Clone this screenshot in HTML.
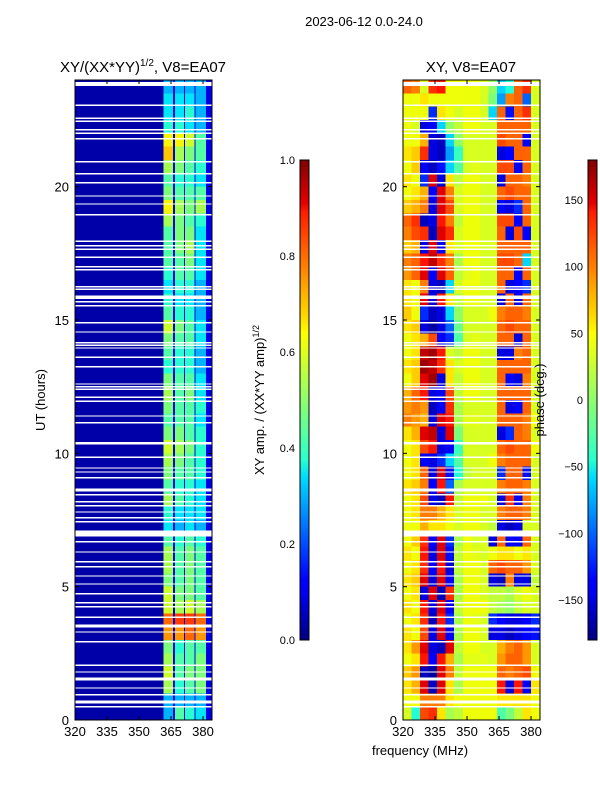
<!DOCTYPE html>
<html><head><meta charset="utf-8"><style>
body{margin:0;background:#fff;}
svg text{font-family:"Liberation Sans",sans-serif;fill:#000;}
</style></head><body>
<svg id="fig" width="600" height="800" xmlns="http://www.w3.org/2000/svg">
<defs>
<linearGradient id="jetgrad" x1="0" y1="1" x2="0" y2="0">
<stop offset="0" stop-color="rgb(0,0,128)"/><stop offset="0.11" stop-color="rgb(0,0,255)"/>
<stop offset="0.125" stop-color="rgb(0,0,255)"/><stop offset="0.34" stop-color="rgb(0,219,255)"/>
<stop offset="0.375" stop-color="rgb(41,255,206)"/><stop offset="0.64" stop-color="rgb(255,255,0)"/>
<stop offset="0.66" stop-color="rgb(255,230,0)"/><stop offset="0.89" stop-color="rgb(255,30,0)"/>
<stop offset="0.91" stop-color="rgb(230,0,0)"/><stop offset="1" stop-color="rgb(128,0,0)"/>
</linearGradient>
</defs>
<text x="364" y="26" font-size="13" text-anchor="middle">2023-06-12 0.0-24.0</text>
<text x="143" y="72" font-size="15" text-anchor="middle">XY/(XX*YY)<tspan font-size="10" dy="-6">1/2</tspan><tspan dy="6">, V8=EA07</tspan></text>
<text x="471" y="72" font-size="15" text-anchor="middle">XY, V8=EA07</text>
<g id="left"></g>
<g id="right"></g>
<g id="axes"></g>
<rect x="300" y="160" width="9" height="480" fill="url(#jetgrad)" stroke="#000" stroke-width="1"/>
<rect x="588" y="160" width="9" height="480" fill="url(#jetgrad)" stroke="#000" stroke-width="1"/>
<text transform="translate(45,400) rotate(-90)" font-size="13" text-anchor="middle">UT (hours)</text>
<text transform="translate(264,400) rotate(-90)" font-size="13" text-anchor="middle">XY amp. / (XX*YY amp)<tspan font-size="9" dy="-5">1/2</tspan></text>
<text transform="translate(544,400) rotate(-90)" font-size="13" text-anchor="middle">phase (deg.)</text>
<text x="420" y="755" font-size="13" text-anchor="middle">frequency (MHz)</text>
</svg>
<script>
const bgAmp = 0.035, gapAmp = 0.09;
const bandLo = [361.5, 366.8, 371.5, 376.5];
const bandHi = [366.0, 371.0, 376.0, 381.5];
const band1 = [0.3,0.3,0.55,0.6,0.55,0.5,0.75,0.8,0.6,0.6,0.5,0.55,0.55,0.45,0.35,0.4,0.55,0.45,0.5,0.55,0.6,0.5,0.45,0.5,0.55,0.5,0.4,0.45,0.5,0.6,0.45,0.4,0.35,0.4,0.45,0.45,0.45,0.55,0.65,0.5,0.45,0.55,0.7,0.65,0.4,0.35,0.35,0.3];
const band2 = [0.45,0.3,0.4,0.45,0.45,0.4,0.75,0.85,0.55,0.5,0.45,0.45,0.45,0.4,0.3,0.35,0.45,0.4,0.45,0.5,0.55,0.5,0.45,0.45,0.45,0.45,0.4,0.4,0.45,0.5,0.4,0.35,0.4,0.45,0.45,0.5,0.5,0.5,0.55,0.45,0.4,0.5,0.55,0.65,0.4,0.35,0.35,0.3];
const band3 = [0.4,0.3,0.45,0.5,0.45,0.45,0.8,0.85,0.6,0.5,0.5,0.5,0.5,0.45,0.35,0.35,0.4,0.4,0.45,0.45,0.5,0.45,0.45,0.45,0.5,0.45,0.4,0.4,0.45,0.45,0.4,0.35,0.4,0.45,0.5,0.55,0.5,0.45,0.5,0.45,0.4,0.45,0.5,0.6,0.35,0.4,0.35,0.3];
const band4 = [0.35,0.3,0.5,0.5,0.5,0.45,0.75,0.8,0.55,0.45,0.45,0.45,0.45,0.4,0.3,0.35,0.35,0.35,0.4,0.4,0.4,0.4,0.35,0.4,0.35,0.35,0.3,0.3,0.35,0.35,0.3,0.3,0.3,0.35,0.35,0.35,0.35,0.4,0.55,0.45,0.35,0.4,0.45,0.45,0.3,0.3,0.3,0.3];
const phaseFreqLo = [320,324,328,332,336,340,344,348,352,356,360,364,368,372,376,380];
const phase = [
[40,-40,120,130,60,20,30,50,50,50,50,-20,0,30,60,50],
[50,50,100,100,100,60,50,50,50,50,50,60,60,60,60,50],
[60,80,150,-160,150,60,20,50,50,50,50,140,-150,140,-140,60],
[70,90,-160,-170,150,100,30,50,50,50,50,110,100,110,120,50],
[50,60,140,-140,140,80,20,45,45,45,40,90,110,110,90,40],
[60,90,150,-150,-160,150,30,50,50,40,40,80,100,110,90,40],
[60,50,120,-150,150,-140,20,50,50,40,-150,-150,-160,-150,-140,-130],
[50,60,130,-160,140,-120,20,50,45,40,-120,-140,-150,-150,-140,-120],
[60,50,140,-150,150,-140,30,50,50,50,30,20,10,30,40,40],
[50,60,-150,150,-160,130,20,50,50,40,30,30,20,40,50,40],
[60,70,150,-150,150,-140,20,50,50,40,-150,-160,100,-150,-150,30],
[50,60,130,-140,140,-150,30,50,50,40,110,120,110,110,90,40],
[60,50,140,-150,150,-130,30,50,45,40,50,60,60,50,60,40],
[50,70,130,-140,150,-120,20,50,40,40,-150,110,-140,-140,110,40],
[50,50,80,60,60,50,40,50,50,40,30,-150,-160,-150,40,40],
[50,60,100,100,80,60,40,50,50,40,40,100,110,110,100,40],
[50,60,120,-150,-160,140,30,50,50,50,40,-150,130,-140,100,40],
[60,70,100,-140,140,-100,20,40,40,40,40,100,110,110,100,40],
[50,60,110,-150,150,-130,-40,30,40,40,40,-120,110,110,-130,40],
[50,60,-140,-150,-120,-60,-20,40,40,40,50,100,110,110,110,40],
[50,60,120,140,-150,-140,-30,40,40,40,40,110,120,110,110,50],
[60,80,150,160,-150,150,0,40,40,40,40,-150,-120,110,100,40],
[100,90,80,-150,150,140,20,45,45,40,40,110,110,110,100,50],
[90,100,90,-160,-140,130,20,40,40,40,40,110,-150,-140,110,40],
[80,110,140,-150,-140,120,30,50,50,40,40,110,110,110,110,40],
[50,70,150,170,-150,60,30,50,50,40,40,110,-140,-150,100,40],
[60,70,170,160,130,60,40,50,50,40,40,110,110,110,110,40],
[50,60,160,170,140,40,30,50,50,40,40,-150,-150,100,110,40],
[50,60,80,120,-140,-120,-20,40,45,40,40,110,110,-150,110,40],
[60,70,-150,-170,-150,-100,-10,40,40,40,40,110,120,110,110,40],
[70,50,-120,-160,-150,-60,10,40,40,40,50,100,110,110,100,40],
[60,50,150,-150,140,60,30,50,50,40,40,-150,110,-150,110,40],
[60,50,100,-150,-160,-60,40,50,50,40,40,110,-150,-140,-120,40],
[90,110,150,-140,150,110,30,45,50,40,40,110,110,-140,110,40],
[100,110,140,160,130,100,20,50,50,40,40,120,120,110,-60,40],
[70,80,-150,150,-140,60,40,50,50,40,40,110,110,110,110,40],
[100,120,130,-160,150,130,40,50,50,40,40,110,-150,120,-140,40],
[110,130,-160,-150,140,100,30,50,50,40,40,120,120,-140,110,40],
[70,80,100,-150,150,120,40,50,50,40,40,-140,-150,-120,110,40],
[50,60,80,-140,150,100,40,50,50,40,40,110,120,110,110,40],
[60,50,-120,150,-150,60,30,50,50,40,40,-150,110,110,100,40],
[50,70,-140,-160,-130,-60,-20,40,45,40,40,120,120,-140,110,40],
[60,70,130,-150,-160,-80,-30,40,40,40,40,-150,-140,110,110,40],
[50,50,80,-150,-160,-60,10,40,40,40,40,120,110,110,-140,40],
[50,40,-150,-140,-60,10,30,50,50,40,40,110,110,110,110,40],
[50,50,50,-120,60,50,40,50,50,40,-60,110,-130,110,130,40],
[50,50,60,50,50,50,50,50,50,40,0,-80,100,110,-100,40],
[110,100,40,130,140,50,50,50,50,40,10,-60,-40,110,130,40]
];
const flagUT = [23.85,23.06,22.57,22.46,22.13,22.01,21.79,20.93,20.48,20.14,19.65,19.35,18.94,17.96,17.78,17.66,17.36,16.99,16.88,16.24,16.16,15.86,15.68,15.53,14.89,14.55,14.14,14.06,13.95,13.61,13.24,12.6,12.49,12.41,12.11,11.96,11.4,11.14,10.39,10.35,9.86,9.45,9.3,9.08,8.66,8.59,8.44,8.18,8.03,7.8,7.58,7.43,7.0,6.68,6.3,5.93,5.74,5.4,5.1,4.73,4.39,4.24,3.86,3.56,3.49,3.3,2.93,2.06,1.8,1.54,1.2,0.94,0.68,0.49];
const flagW = {"23.85":0.15,"15.86":0.13,"7":0.22,"1.54":0.1,"0.68":0.12};
const xTicks = [320,335,350,365,380];
const yTicks = [0,5,10,15,20];
const ampTicks = [0.0,0.2,0.4,0.6,0.8,1.0];
const phaseTicks = [-150,-100,-50,0,50,100,150];

const NS="http://www.w3.org/2000/svg";
const F0=320,F1=384.2,T0=0,T1=24,PT=80,PB=720;
const panels=[{x:75,w:137},{x:403,w:137}];
function X(p,f){return panels[p].x+(f-F0)/(F1-F0)*panels[p].w;}
function Y(t){return PB-(t-T0)/(T1-T0)*(PB-PT);}
function jet(v){v=Math.max(0,Math.min(1,v));
 function seg(pts){for(let i=1;i<pts.length;i++){if(v<=pts[i][0]){const a=pts[i-1],b=pts[i];return a[1]+(b[1]-a[1])*(v-a[0])/(b[0]-a[0]);}}return pts[pts.length-1][1];}
 const r=seg([[0,0],[0.35,0],[0.66,1],[0.89,1],[1,0.5]]);
 const g=seg([[0,0],[0.125,0],[0.375,1],[0.64,1],[0.91,0],[1,0]]);
 const b=seg([[0,0.5],[0.11,1],[0.34,1],[0.65,0],[1,0]]);
 return `rgb(${Math.round(r*255)},${Math.round(g*255)},${Math.round(b*255)})`;}
function rect(parent,x,y,w,h,fill){const r=document.createElementNS(NS,'rect');
 r.setAttribute('x',x);r.setAttribute('y',y);r.setAttribute('width',w);r.setAttribute('height',h);r.setAttribute('fill',fill);
 r.setAttribute('shape-rendering','crispEdges');parent.appendChild(r);return r;}
const L=document.getElementById('left'),R=document.getElementById('right'),A=document.getElementById('axes');
const bands=[band1,band2,band3,band4];
const nRows=band1.length,dt=(T1-T0)/nRows;
for(let i=0;i<nRows;i++){
 const y0=Y(T0+(i+1)*dt),h=Y(T0+i*dt)-y0;
 let c=rect(L,X(0,F0),y0,X(0,F1)-X(0,F0),h,jet(bgAmp));
 
 
 c=rect(L,X(0,bandLo[0]),y0,X(0,F1)-X(0,bandLo[0]),h,jet(gapAmp));
 
 
 for(let b=0;b<4;b++){
  c=rect(L,X(0,bandLo[b]),y0,X(0,bandHi[b])-X(0,bandLo[b]),h,jet(bands[b][i]));
  
  
 }
}
const nP=phase.length,dtp=(T1-T0)/nP;
for(let i=0;i<nP;i++){
 const y0=Y(T0+(i+1)*dtp),h=Y(T0+i*dtp)-y0;
 for(let j=0;j<phaseFreqLo.length;j++){
  const fl=phaseFreqLo[j],fh=j+1<phaseFreqLo.length?phaseFreqLo[j+1]:F1;
  const c=rect(R,X(1,fl),y0,X(1,fh)-X(1,fl),h,jet((phase[i][j]+180)/360));
  
  
 }
}
for(const p of [0,1]){
 const g=p?R:L;
 for(const t of flagUT){
  const w=flagW[String(t)]||0.055;
  const y0=Y(t+w/2),h=Y(t-w/2)-y0;
  const c=rect(g,panels[p].x,y0,panels[p].w,Math.max(h,1.2),'#fff');
  
  
 }
}
function line(x1,y1,x2,y2){const l=document.createElementNS(NS,'line');
 l.setAttribute('x1',x1);l.setAttribute('y1',y1);l.setAttribute('x2',x2);l.setAttribute('y2',y2);
 l.setAttribute('stroke','#000');l.setAttribute('stroke-width','1');A.appendChild(l);return l;}
function text(x,y,s,anchor,size){const t=document.createElementNS(NS,'text');
 t.setAttribute('x',x);t.setAttribute('y',y);t.setAttribute('text-anchor',anchor);t.setAttribute('font-size',size);
 t.textContent=s;A.appendChild(t);return t;}
for(const p of [0,1]){
 const fr=document.createElementNS(NS,'rect');
 fr.setAttribute('x',panels[p].x);fr.setAttribute('y',PT);fr.setAttribute('width',panels[p].w);fr.setAttribute('height',PB-PT);
 fr.setAttribute('fill','none');fr.setAttribute('stroke','#000');
 
 
 A.appendChild(fr);
 for(const f of xTicks){const x=X(p,f);line(x,PB,x,PB-4);line(x,PT,x,PT+4);
  const t=text(x,PB+16,String(f),'middle',13);
  
  }
 for(const v of yTicks){const y=Y(v);line(panels[p].x,y,panels[p].x+4,y);line(panels[p].x+panels[p].w,y,panels[p].x+panels[p].w-4,y);
  const t=text(panels[p].x-6,y+5,String(v),'end',13);
  
  }
}
for(const v of ampTicks){const y=640-v*480;line(300,y,304,y);line(309,y,305,y);
 const t=text(295,y+4,v.toFixed(1),'end',11);
 
 }
for(const v of phaseTicks){const y=400-v*(480/360);line(588,y,592,y);line(597,y,593,y);
 const t=text(583,y+4,v<0?'\u2212'+(-v):String(v),'end',11);
 
 }
</script>
</body></html>
